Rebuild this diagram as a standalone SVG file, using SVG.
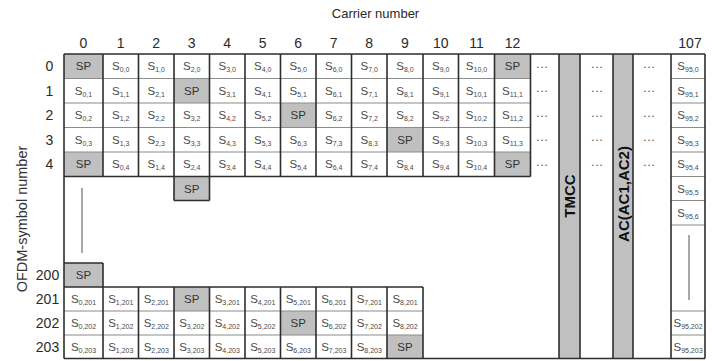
<svg xmlns="http://www.w3.org/2000/svg" width="714" height="361" viewBox="0 0 714 361">
<style>
text{font-family:"Liberation Sans",Arial,sans-serif}
.s{font-size:11.5px;fill:#4a4a4a;text-anchor:middle}
.b{font-size:7px}
.p{font-size:11.5px;fill:#333;text-anchor:middle}
.g{fill:#c0c0c0}
.h{font-size:14px;fill:#2a2a2a;text-anchor:middle}
.d{font-size:6px;fill:#666;text-anchor:middle;letter-spacing:2px}
.lb{font-size:15px;font-weight:bold;fill:#111;text-anchor:middle}
.hl{stroke:#8c8c8c;stroke-width:1.2;fill:none}
.vl{stroke:#2e2e2e;stroke-width:1.6;fill:none}
.il{stroke:#7a7a7a;stroke-width:1.3;fill:none}
</style>
<rect width="714" height="361" fill="#fff"/>
<g id="titles">
<text class="h" x="375.5" y="18" style="font-size:13px">Carrier number</text>
<text class="h" transform="translate(27,219) rotate(-90)" style="font-size:14.5px;fill:#333">OFDM-symbol number</text>
</g>
<g id="col-headers">
<text class="h" x="83.5" y="48">0</text>
<text class="h" x="120.75" y="48">1</text>
<text class="h" x="156.25" y="48">2</text>
<text class="h" x="191.75" y="48">3</text>
<text class="h" x="227.25" y="48">4</text>
<text class="h" x="262.75" y="48">5</text>
<text class="h" x="298.25" y="48">6</text>
<text class="h" x="333.75" y="48">7</text>
<text class="h" x="369.25" y="48">8</text>
<text class="h" x="405" y="48">9</text>
<text class="h" x="440.75" y="48">10</text>
<text class="h" x="476.5" y="48">11</text>
<text class="h" x="512.5" y="48">12</text>
<text class="h" x="690" y="48">107</text>
</g>
<g id="row-headers">
<text class="h" x="49.5" y="71">0</text>
<text class="h" x="49.5" y="95.5">1</text>
<text class="h" x="49.5" y="120">2</text>
<text class="h" x="49.5" y="144.5">3</text>
<text class="h" x="49.5" y="169">4</text>
<text class="h" x="47.5" y="280">200</text>
<text class="h" x="47.5" y="304">201</text>
<text class="h" x="47.5" y="328">202</text>
<text class="h" x="47.5" y="352">203</text>
</g>
<g id="sp-cells">
<rect class="g" x="64" y="54" width="39" height="24.5"/>
<rect class="g" x="494.5" y="54" width="36" height="24.5"/>
<rect class="g" x="174" y="78.5" width="35.5" height="24.5"/>
<rect class="g" x="280.5" y="103" width="35.5" height="24.5"/>
<rect class="g" x="387" y="127.5" width="36" height="24.5"/>
<rect class="g" x="64" y="152" width="39" height="24.5"/>
<rect class="g" x="494.5" y="152" width="36" height="24.5"/>
<rect class="g" x="174" y="176.5" width="35.5" height="24"/>
<rect class="g" x="64" y="263" width="39" height="24"/>
<rect class="g" x="174" y="287" width="35.5" height="24"/>
<rect class="g" x="280.5" y="311" width="35.5" height="24"/>
<rect class="g" x="387" y="335" width="36" height="23.5"/>
</g>
<g id="TMCC">
<rect class="g" x="559" y="54" width="21" height="304.5"/>
<text class="lb" transform="translate(575,196) rotate(-90)">TMCC</text>
</g>
<g id="AC">
<rect class="g" x="613" y="54" width="20" height="304.5"/>
<text class="lb" transform="translate(628.5,194) rotate(-90)">AC(AC1,AC2)</text>
</g>
<g id="connectors">
<path class="hl" d="M64 78.5H530.5M64 103H530.5M64 127.5H530.5M64 152H530.5M671 78.5H705M671 103H705M671 127.5H705M671 152H705M671 176.5H705M671 200.5H705M671 225H705M64 311H423M64 335H423M671 311H705M671 335H705"/>
<path class="vl" d="M64 54H705M64 358.5H705M64 176.5H530.5M174 200.5H209.5M64 263H103M64 287H423"/>
<path class="vl" d="M64 54V358.5M103 54V176.5M138.5 54V176.5M174 54V200.5M209.5 54V200.5M245 54V176.5M280.5 54V176.5M316 54V176.5M351.5 54V176.5M387 54V176.5M423 54V176.5M458.5 54V176.5M494.5 54V176.5M530.5 54V176.5M103 263V358.5M138.5 287V358.5M174 287V358.5M209.5 287V358.5M245 287V358.5M280.5 287V358.5M316 287V358.5M351.5 287V358.5M387 287V358.5M423 287V358.5M559 54V358.5M580 54V358.5M613 54V358.5M633 54V358.5M671 54V358.5M705 54V358.5"/>
<path class="il" d="M82 188V253M689 235V300"/>
</g>
<g id="row-0">
<text class="p" x="83.5" y="70">SP</text>
<text class="s" x="120.75" y="70">S<tspan class="b" dy="2">0,0</tspan></text>
<text class="s" x="156.25" y="70">S<tspan class="b" dy="2">1,0</tspan></text>
<text class="s" x="191.75" y="70">S<tspan class="b" dy="2">2,0</tspan></text>
<text class="s" x="227.25" y="70">S<tspan class="b" dy="2">3,0</tspan></text>
<text class="s" x="262.75" y="70">S<tspan class="b" dy="2">4,0</tspan></text>
<text class="s" x="298.25" y="70">S<tspan class="b" dy="2">5,0</tspan></text>
<text class="s" x="333.75" y="70">S<tspan class="b" dy="2">6,0</tspan></text>
<text class="s" x="369.25" y="70">S<tspan class="b" dy="2">7,0</tspan></text>
<text class="s" x="405" y="70">S<tspan class="b" dy="2">8,0</tspan></text>
<text class="s" x="440.75" y="70">S<tspan class="b" dy="2">9,0</tspan></text>
<text class="s" x="476.5" y="70">S<tspan class="b" dy="2">10,0</tspan></text>
<text class="p" x="512.5" y="70">SP</text>
<text class="s" x="688" y="70">S<tspan class="b" dy="2">95,0</tspan></text>
</g>
<g id="row-1">
<text class="s" x="83.5" y="94.5">S<tspan class="b" dy="2">0,1</tspan></text>
<text class="s" x="120.75" y="94.5">S<tspan class="b" dy="2">1,1</tspan></text>
<text class="s" x="156.25" y="94.5">S<tspan class="b" dy="2">2,1</tspan></text>
<text class="p" x="191.75" y="94.5">SP</text>
<text class="s" x="227.25" y="94.5">S<tspan class="b" dy="2">3,1</tspan></text>
<text class="s" x="262.75" y="94.5">S<tspan class="b" dy="2">4,1</tspan></text>
<text class="s" x="298.25" y="94.5">S<tspan class="b" dy="2">5,1</tspan></text>
<text class="s" x="333.75" y="94.5">S<tspan class="b" dy="2">6,1</tspan></text>
<text class="s" x="369.25" y="94.5">S<tspan class="b" dy="2">7,1</tspan></text>
<text class="s" x="405" y="94.5">S<tspan class="b" dy="2">8,1</tspan></text>
<text class="s" x="440.75" y="94.5">S<tspan class="b" dy="2">9,1</tspan></text>
<text class="s" x="476.5" y="94.5">S<tspan class="b" dy="2">10,1</tspan></text>
<text class="s" x="512.5" y="94.5">S<tspan class="b" dy="2">11,1</tspan></text>
<text class="s" x="688" y="94.5">S<tspan class="b" dy="2">95,1</tspan></text>
</g>
<g id="row-2">
<text class="s" x="83.5" y="119">S<tspan class="b" dy="2">0,2</tspan></text>
<text class="s" x="120.75" y="119">S<tspan class="b" dy="2">1,2</tspan></text>
<text class="s" x="156.25" y="119">S<tspan class="b" dy="2">2,2</tspan></text>
<text class="s" x="191.75" y="119">S<tspan class="b" dy="2">3,2</tspan></text>
<text class="s" x="227.25" y="119">S<tspan class="b" dy="2">4,2</tspan></text>
<text class="s" x="262.75" y="119">S<tspan class="b" dy="2">5,2</tspan></text>
<text class="p" x="298.25" y="119">SP</text>
<text class="s" x="333.75" y="119">S<tspan class="b" dy="2">6,2</tspan></text>
<text class="s" x="369.25" y="119">S<tspan class="b" dy="2">7,2</tspan></text>
<text class="s" x="405" y="119">S<tspan class="b" dy="2">8,2</tspan></text>
<text class="s" x="440.75" y="119">S<tspan class="b" dy="2">9,2</tspan></text>
<text class="s" x="476.5" y="119">S<tspan class="b" dy="2">10,2</tspan></text>
<text class="s" x="512.5" y="119">S<tspan class="b" dy="2">11,2</tspan></text>
<text class="s" x="688" y="119">S<tspan class="b" dy="2">95,2</tspan></text>
</g>
<g id="row-3">
<text class="s" x="83.5" y="143.5">S<tspan class="b" dy="2">0,3</tspan></text>
<text class="s" x="120.75" y="143.5">S<tspan class="b" dy="2">1,3</tspan></text>
<text class="s" x="156.25" y="143.5">S<tspan class="b" dy="2">2,3</tspan></text>
<text class="s" x="191.75" y="143.5">S<tspan class="b" dy="2">3,3</tspan></text>
<text class="s" x="227.25" y="143.5">S<tspan class="b" dy="2">4,3</tspan></text>
<text class="s" x="262.75" y="143.5">S<tspan class="b" dy="2">5,3</tspan></text>
<text class="s" x="298.25" y="143.5">S<tspan class="b" dy="2">6,3</tspan></text>
<text class="s" x="333.75" y="143.5">S<tspan class="b" dy="2">7,3</tspan></text>
<text class="s" x="369.25" y="143.5">S<tspan class="b" dy="2">8,3</tspan></text>
<text class="p" x="405" y="143.5">SP</text>
<text class="s" x="440.75" y="143.5">S<tspan class="b" dy="2">9,3</tspan></text>
<text class="s" x="476.5" y="143.5">S<tspan class="b" dy="2">10,3</tspan></text>
<text class="s" x="512.5" y="143.5">S<tspan class="b" dy="2">11,3</tspan></text>
<text class="s" x="688" y="143.5">S<tspan class="b" dy="2">95,3</tspan></text>
</g>
<g id="row-4">
<text class="p" x="83.5" y="168">SP</text>
<text class="s" x="120.75" y="168">S<tspan class="b" dy="2">0,4</tspan></text>
<text class="s" x="156.25" y="168">S<tspan class="b" dy="2">1,4</tspan></text>
<text class="s" x="191.75" y="168">S<tspan class="b" dy="2">2,4</tspan></text>
<text class="s" x="227.25" y="168">S<tspan class="b" dy="2">3,4</tspan></text>
<text class="s" x="262.75" y="168">S<tspan class="b" dy="2">4,4</tspan></text>
<text class="s" x="298.25" y="168">S<tspan class="b" dy="2">5,4</tspan></text>
<text class="s" x="333.75" y="168">S<tspan class="b" dy="2">6,4</tspan></text>
<text class="s" x="369.25" y="168">S<tspan class="b" dy="2">7,4</tspan></text>
<text class="s" x="405" y="168">S<tspan class="b" dy="2">8,4</tspan></text>
<text class="s" x="440.75" y="168">S<tspan class="b" dy="2">9,4</tspan></text>
<text class="s" x="476.5" y="168">S<tspan class="b" dy="2">10,4</tspan></text>
<text class="p" x="512.5" y="168">SP</text>
<text class="s" x="688" y="168">S<tspan class="b" dy="2">95,4</tspan></text>
</g>
<g id="row-5-6">
<text class="p" x="191.75" y="192.5">SP</text>
<text class="s" x="688" y="192.5">S<tspan class="b" dy="2">95,5</tspan></text>
<text class="s" x="688" y="217">S<tspan class="b" dy="2">95,6</tspan></text>
</g>
<g id="dots">
<text class="d" x="543" y="68.5">•••</text>
<text class="d" x="543" y="93">•••</text>
<text class="d" x="543" y="117.5">•••</text>
<text class="d" x="543" y="142">•••</text>
<text class="d" x="543" y="166.5">•••</text>
<text class="d" x="598" y="68.5">•••</text>
<text class="d" x="598" y="93">•••</text>
<text class="d" x="598" y="117.5">•••</text>
<text class="d" x="598" y="142">•••</text>
<text class="d" x="598" y="166.5">•••</text>
<text class="d" x="650" y="68.5">•••</text>
<text class="d" x="650" y="93">•••</text>
<text class="d" x="650" y="117.5">•••</text>
<text class="d" x="650" y="142">•••</text>
<text class="d" x="650" y="166.5">•••</text>
</g>
<g id="row-200">
<text class="p" x="83.5" y="279">SP</text>
</g>
<g id="row-201">
<text class="s" x="83.5" y="303">S<tspan class="b" dy="2">0,201</tspan></text>
<text class="s" x="120.75" y="303">S<tspan class="b" dy="2">1,201</tspan></text>
<text class="s" x="156.25" y="303">S<tspan class="b" dy="2">2,201</tspan></text>
<text class="p" x="191.75" y="303">SP</text>
<text class="s" x="227.25" y="303">S<tspan class="b" dy="2">3,201</tspan></text>
<text class="s" x="262.75" y="303">S<tspan class="b" dy="2">4,201</tspan></text>
<text class="s" x="298.25" y="303">S<tspan class="b" dy="2">5,201</tspan></text>
<text class="s" x="333.75" y="303">S<tspan class="b" dy="2">6,201</tspan></text>
<text class="s" x="369.25" y="303">S<tspan class="b" dy="2">7,201</tspan></text>
<text class="s" x="405" y="303">S<tspan class="b" dy="2">8,201</tspan></text>
</g>
<g id="row-202">
<text class="s" x="83.5" y="327">S<tspan class="b" dy="2">0,202</tspan></text>
<text class="s" x="120.75" y="327">S<tspan class="b" dy="2">1,202</tspan></text>
<text class="s" x="156.25" y="327">S<tspan class="b" dy="2">2,202</tspan></text>
<text class="s" x="191.75" y="327">S<tspan class="b" dy="2">3,202</tspan></text>
<text class="s" x="227.25" y="327">S<tspan class="b" dy="2">4,202</tspan></text>
<text class="s" x="262.75" y="327">S<tspan class="b" dy="2">5,202</tspan></text>
<text class="p" x="298.25" y="327">SP</text>
<text class="s" x="333.75" y="327">S<tspan class="b" dy="2">6,202</tspan></text>
<text class="s" x="369.25" y="327">S<tspan class="b" dy="2">7,202</tspan></text>
<text class="s" x="405" y="327">S<tspan class="b" dy="2">8,202</tspan></text>
<text class="s" x="688" y="327">S<tspan class="b" dy="2">95,202</tspan></text>
</g>
<g id="row-203">
<text class="s" x="83.5" y="351">S<tspan class="b" dy="2">0,203</tspan></text>
<text class="s" x="120.75" y="351">S<tspan class="b" dy="2">1,203</tspan></text>
<text class="s" x="156.25" y="351">S<tspan class="b" dy="2">2,203</tspan></text>
<text class="s" x="191.75" y="351">S<tspan class="b" dy="2">3,203</tspan></text>
<text class="s" x="227.25" y="351">S<tspan class="b" dy="2">4,203</tspan></text>
<text class="s" x="262.75" y="351">S<tspan class="b" dy="2">5,203</tspan></text>
<text class="s" x="298.25" y="351">S<tspan class="b" dy="2">6,203</tspan></text>
<text class="s" x="333.75" y="351">S<tspan class="b" dy="2">7,203</tspan></text>
<text class="s" x="369.25" y="351">S<tspan class="b" dy="2">8,203</tspan></text>
<text class="p" x="405" y="351">SP</text>
<text class="s" x="688" y="351">S<tspan class="b" dy="2">95,203</tspan></text>
</g>
</svg>
